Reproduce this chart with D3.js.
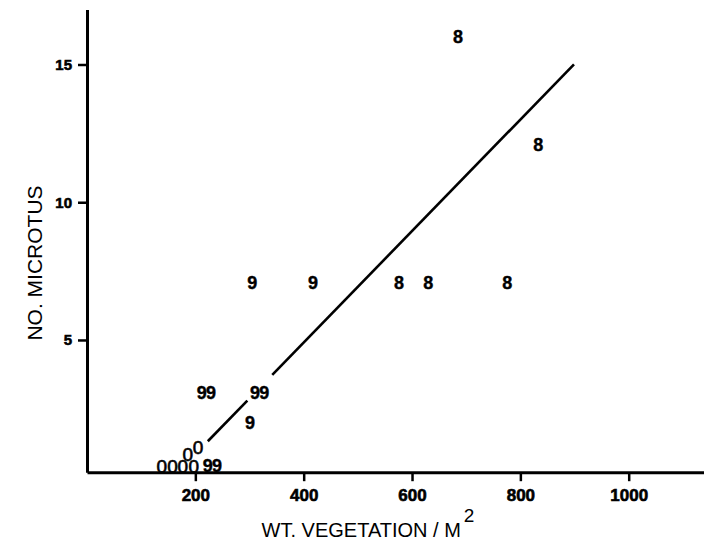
<!DOCTYPE html>
<html>
<head>
<meta charset="utf-8">
<script src="https://cdn.jsdelivr.net/npm/d3@7"></script>
<style>
  html, body { margin: 0; padding: 0; background: #fff; }
  svg { display: block; }
</style>
</head>
<body>
<div id="chart"></div>
<script>
// ---- data ----
const xTickValues = [200, 400, 600, 800, 1000];
const yTickValues = [5, 10, 15];
const xTitle = "WT. VEGETATION / M";
const xTitleSup = "2";
const yTitle = "NO. MICROTUS";

// each point is drawn as its code digit (8, 9 or 0)
const pointCodes = ["8", "8", "9", "9", "8", "8", "8",
                    "9", "9", "9", "9", "9",
                    "0", "0", "0", "0", "9", "9", "0", "0"];
const pointWeight = [685, 833, 305, 417, 576, 630, 776,
                     212, 229, 310, 327, 301,
                     138, 158, 177, 197, 223, 240, 186, 205];
const pointCount = [16.0, 12.1, 7.1, 7.1, 7.1, 7.1, 7.1,
                    3.08, 3.08, 3.11, 3.11, 2.02,
                    0.43, 0.43, 0.43, 0.43, 0.43, 0.43, 0.86, 1.12];

// fitted regression line, drawn in two pieces (gap around the labels)
const fitIntercept = -3.19;
const fitSlope = 0.02024;
const fitPieces = [[223, 296], [342, 899]];

// ---- drawing ----
const W = 704, H = 544;
const svg = d3.select("#chart").append("svg")
  .attr("width", W).attr("height", H);

const x = d3.scaleLinear().domain([0, 1139]).range([87, 704]);
const y = d3.scaleLinear().domain([0.2, 17]).range([472.2, 9.4]);

const font = "'Liberation Sans', Arial, Helvetica, sans-serif";

// x axis
const gx = svg.append("g")
  .attr("transform", `translate(0,${y(0.2)})`)
  .call(d3.axisBottom(x).tickValues(xTickValues).tickFormat(d3.format("d"))
    .tickSize(9).tickPadding(8).tickSizeOuter(0));
gx.select(".domain").attr("stroke", "#000").attr("stroke-width", 3);
gx.selectAll(".tick line").attr("stroke", "#000").attr("stroke-width", 2.5);
gx.selectAll(".tick text")
  .attr("fill", "#000")
  .attr("stroke", "#000").attr("stroke-width", 0.6)
  .style("font-family", font)
  .style("font-weight", "bold")
  .style("font-size", "17px");

// y axis
const gy = svg.append("g")
  .attr("transform", `translate(${x(0)},0)`)
  .call(d3.axisLeft(y).tickValues(yTickValues).tickFormat(d3.format("d"))
    .tickSize(9).tickPadding(6).tickSizeOuter(0));
gy.select(".domain").attr("stroke", "#000").attr("stroke-width", 3);
gy.selectAll(".tick line").attr("stroke", "#000").attr("stroke-width", 2.5);
gy.selectAll(".tick text")
  .attr("fill", "#000")
  .attr("stroke", "#000").attr("stroke-width", 0.6)
  .style("font-family", font)
  .style("font-weight", "bold")
  .style("font-size", "15px");

// regression line
const line = d3.line().x(d => x(d)).y(d => y(fitIntercept + fitSlope * d));
svg.append("g").selectAll("path")
  .data(fitPieces)
  .join("path")
  .attr("d", d => line(d))
  .attr("fill", "none")
  .attr("stroke", "#000")
  .attr("stroke-width", 2.6)
  .attr("stroke-linecap", "butt");

// points as digit codes
const pts = pointCodes.map((c, i) => ({ c, w: pointWeight[i], n: pointCount[i] }));
svg.append("g").selectAll("text")
  .data(pts)
  .join("text")
  .attr("x", d => x(d.w))
  .attr("y", d => y(d.n))
  .attr("dy", "0.36em")
  .attr("text-anchor", "middle")
  .attr("fill", "#000")
  .attr("stroke", "#000")
  .attr("stroke-width", d => d.c === "0" ? 0.6 : 0.4)
  .style("font-family", font)
  .style("font-weight", d => d.c === "0" ? "normal" : "bold")
  .style("font-size", d => d.c === "0" ? "19px" : "18px")
  .text(d => d.c);

// axis titles
const xt = svg.append("text")
  .attr("x", 368)
  .attr("y", 537)
  .attr("text-anchor", "middle")
  .attr("fill", "#000")
  .style("font-family", font)
  .style("font-size", "20px");
xt.append("tspan").text(xTitle);
xt.append("tspan").attr("dx", 3).attr("dy", -15).style("font-size", "19px").text(xTitleSup);

svg.append("text")
  .attr("transform", `translate(42,263) rotate(-90)`)
  .attr("text-anchor", "middle")
  .attr("fill", "#000")
  .style("font-family", font)
  .style("font-size", "21px")
  .text(yTitle);
</script>
</body>
</html>
